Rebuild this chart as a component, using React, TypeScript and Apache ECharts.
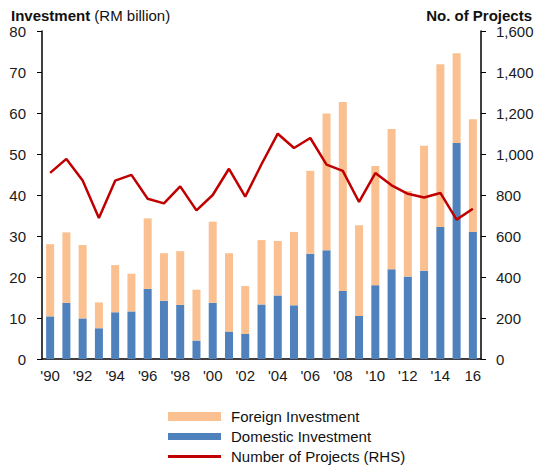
import React, { useEffect, useRef } from "react";
import * as echarts from "echarts";

const years = ["1990","1991","1992","1993","1994","1995","1996","1997","1998","1999","2000","2001","2002","2003","2004","2005","2006","2007","2008","2009","2010","2011","2012","2013","2014","2015","2016"];
const tickLabels = ["'90","","'92","","'94","","'96","","'98","","'00","","'02","","'04","","'06","","'08","","'10","","'12","","'14","","16"];
const totalInvestment = [28.0,30.9,27.8,13.8,22.9,20.8,34.3,25.8,26.3,16.9,33.5,25.8,17.8,29.0,28.8,31.0,45.9,59.9,62.7,32.6,47.1,56.1,41.0,52.0,71.9,74.6,58.5];
const domesticInvestment = [10.4,13.7,9.9,7.5,11.4,11.6,17.1,14.2,13.2,4.5,13.7,6.7,6.1,13.3,15.5,13.1,25.7,26.5,16.6,10.5,18.0,21.9,20.1,21.5,32.2,52.7,31.0];
const foreignInvestment = totalInvestment.map((t, i) => +(t - domesticInvestment[i]).toFixed(1));
const numberOfProjects = [908,976,871,688,870,898,782,759,842,725,800,928,792,950,1099,1029,1078,948,918,766,907,847,806,788,810,680,733];

const FONT = "Liberation Sans, Arial, sans-serif";

export default function App() {
  const ref = useRef<HTMLDivElement>(null);
  useEffect(() => {
    const chart = echarts.init(ref.current!, null, { renderer: "svg" });
    chart.setOption({
      animation: false,
      textStyle: { fontFamily: FONT },
      title: [
        {
          text: "{b|Investment} (RM billion)",
          left: 6,
          top: 3,
          textStyle: {
            fontFamily: FONT, fontSize: 15, fontWeight: "normal", color: "#111",
            rich: { b: { fontFamily: FONT, fontSize: 15, fontWeight: "bold", color: "#111" } },
          },
        },
        {
          text: "No. of Projects",
          right: 1,
          top: 3,
          textStyle: { fontFamily: FONT, fontSize: 15, fontWeight: "bold", color: "#111" },
        },
      ],
      legend: {
        orient: "vertical",
        left: 163,
        top: 404,
        height: 80,
        itemWidth: 53,
        itemHeight: 10,
        itemGap: 5,
        symbolKeepAspect: true,
        textStyle: { fontFamily: FONT, fontSize: 15, color: "#111", padding: [0, 0, 0, 5] },
        data: [
          { name: "Foreign Investment", icon: "path://M0,0H53V9H0Z" },
          { name: "Domestic Investment", icon: "path://M0,0H53V7H0Z" },
          { name: "Number of Projects (RHS)", icon: "path://M0,0H53V3H0Z" },
        ],
      },
      grid: { left: 42, right: 57, top: 31, bottom: 109, containLabel: false },
      xAxis: {
        type: "category",
        data: years,
        axisLine: { lineStyle: { color: "#000", width: 1.5 } },
        axisTick: { interval: 0, length: 5, lineStyle: { color: "#000" } },
        axisLabel: {
          interval: 0,
          margin: 9,
          fontSize: 15,
          color: "#1a1a1a",
          fontFamily: FONT,
          formatter: (_v: string, i: number) => tickLabels[i],
        },
      },
      yAxis: [
        {
          type: "value",
          min: 0, max: 80, interval: 10,
          axisLine: { show: true, lineStyle: { color: "#000", width: 1.5 } },
          axisTick: { show: true, length: 5, lineStyle: { color: "#000" } },
          splitLine: { show: false },
          axisLabel: { fontSize: 15, color: "#1a1a1a", fontFamily: FONT, margin: 16 },
        },
        {
          type: "value",
          min: 0, max: 1600, interval: 200,
          axisLine: { show: true, lineStyle: { color: "#000", width: 1.5 } },
          axisTick: { show: true, length: 5, lineStyle: { color: "#000" } },
          splitLine: { show: false },
          axisLabel: {
            fontSize: 15, color: "#1a1a1a", fontFamily: FONT, margin: 15,
            formatter: (v: number) => v.toLocaleString("en-US"),
          },
        },
      ],
      series: [
        {
          name: "Domestic Investment",
          type: "bar",
          stack: "inv",
          barWidth: 8,
          data: domesticInvestment,
          itemStyle: { color: "#4F81BD" },
        },
        {
          name: "Foreign Investment",
          type: "bar",
          stack: "inv",
          barWidth: 8,
          data: foreignInvestment,
          itemStyle: { color: "#FAC090" },
        },
        {
          name: "Number of Projects (RHS)",
          type: "line",
          yAxisIndex: 1,
          symbol: "none",
          data: numberOfProjects,
          lineStyle: { color: "#C00000", width: 2.5 },
          itemStyle: { color: "#C00000" },
        },
      ],
    });
    return () => chart.dispose();
  }, []);
  return <div ref={ref} style={{ width: 538, height: 468, position: "absolute", left: 0, top: 0 }} />;
}
